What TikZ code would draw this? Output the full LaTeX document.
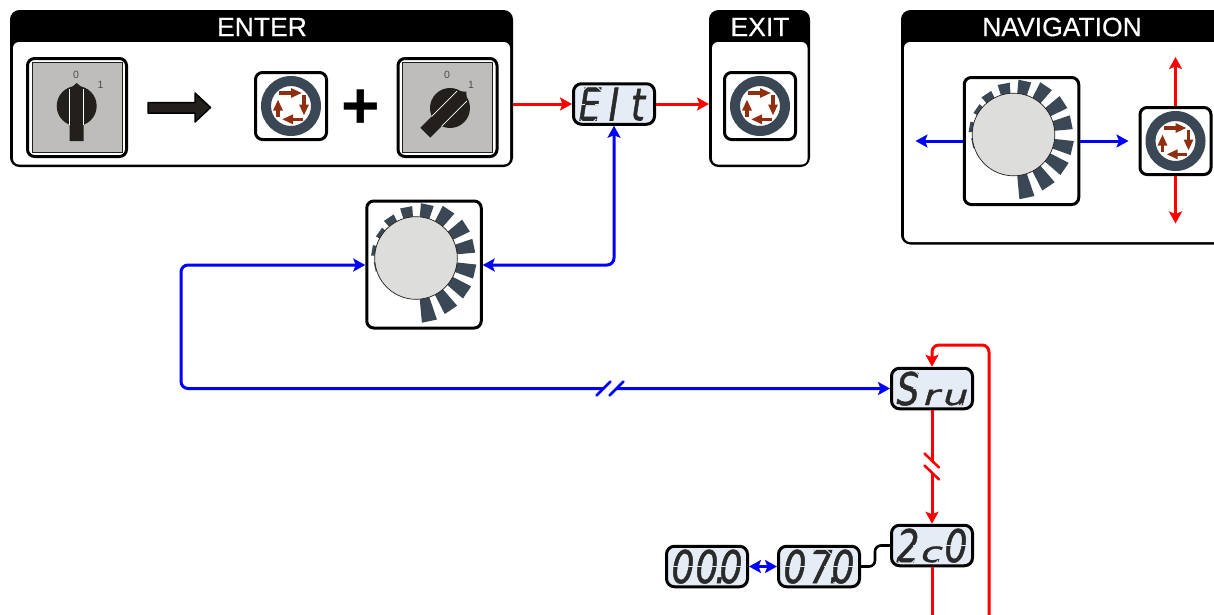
\documentclass[tikz,border=0pt]{standalone}
\usepackage{fontspec}
\setmainfont{Liberation Sans}
\newfontfamily\lcdfont{DejaVu Sans}[ItalicFont={DejaVu Sans Oblique},ItalicFeatures={FakeBold=1.2}]
\newfontfamily\titlefont{Liberation Sans}[FakeBold=.4]
\usetikzlibrary{arrows.meta}
\definecolor{ringc}{HTML}{3A4754}
\definecolor{brownc}{HTML}{8F2F10}
\definecolor{grayc}{HTML}{BEBDBB}
\definecolor{knobc}{HTML}{DDDDDB}
\definecolor{lcdc}{HTML}{E6ECF6}
\definecolor{darkc}{HTML}{231F1A}
\definecolor{lcdink}{HTML}{2A2A2A}
\tikzset{
  px/.style={x=1pt,y=-1pt},
  panel/.style={draw=black,line width=3pt,fill=black,rounded corners=8pt,inner sep=0pt,anchor=north west},
  paneltitle/.style={text=white,font=\fontsize{26.5}{26.5}\titlefont,inner sep=0pt},
  scaletext/.style={inner sep=0pt,text=darkc!80,font=\fontsize{10.5}{10.5}\selectfont},
  iconbox/.style={draw=black,line width=3pt,fill=white,rounded corners=7pt,inner sep=0pt},
  lcdbox/.style={draw=black,line width=3pt,fill=lcdc,rounded corners=8pt,inner sep=0pt,minimum width=81pt,minimum height=40.5pt,text=lcdink},
  redline/.style={draw=red,line width=3pt,rounded corners=7pt},
  blueline/.style={draw=blue,line width=3pt,rounded corners=7pt},
  rtip/.style={-{Stealth[length=12pt,width=13pt,inset=2.5pt]}},
  btip/.style={{Stealth[length=12pt,width=13pt,inset=2.5pt]}-{Stealth[length=12pt,width=13pt,inset=2.5pt]}},
  brownarrow/.style={draw=brownc,line width=3.4pt,-{Triangle[length=11pt,width=9pt]}},
  slash/.style={line width=2.6pt,line cap=round},
  slit/.style={draw=lcdc,line width=.9pt},
}
\newcommand{\lcdcell}[1]{\makebox[30pt][c]{#1}}
\newcommand{\lcdlow}[1]{\scalebox{1.1}[.62]{#1}}
\newcommand{\lcddot}{\rlap{\kern-4.5pt.}}
\newcommand{\lcdword}[3]{\raisebox{-16.5pt}[0pt][0pt]{\scalebox{.8}[1]{\fontsize{45}{45}\lcdfont\itshape\lcdcell{#1}\lcdcell{#2}\lcdcell{#3}}}}
% thin gaps that break the printed glyphs into display segments
\newcommand{\lcdslits}[2]{%
  \foreach \c in {-24,0,24}{
    \begin{scope}[shift={(#1+\c,#2)}]
      \draw[slit] (-14,0) -- (-5,0) (5,0) -- (14,0);
      \draw[slit] (-9,-11.5) -- (-2,-18) (6,-18) -- (13,-11.5);
      \draw[slit] (-9.5,15.5) -- (-7,18) (3,18) -- (6,15);
    \end{scope}}}
\newcommand{\ringicon}[3]{%
  \node[iconbox,minimum width=71pt,minimum height=67pt] (#1) at (#2,#3) {};
  \begin{scope}[shift={(#2,#3)}]
    \fill[ringc,even odd rule] (0,0) circle (30pt) (0,0) circle (20pt);
    \draw[brownarrow] (-11.7,-13) -- (11,-13);
    \draw[brownarrow] (13,-10.7) -- (13,9.5);
    \draw[brownarrow] (11.7,13.3) -- (-9,13.3);
    \draw[brownarrow] (-13,11) -- (-13,-6.5);
  \end{scope}}
\newcommand{\dialicon}[3]{%
  \node[iconbox,minimum width=114.5pt,minimum height=127pt] (#1) at (#2,#3) {};
  \begin{scope}[shift={(#2,#3)},shift={(-8,-6.5)},yscale=-1]
    \foreach \a/\r in {-78/65,-56/63,-34/62,-13/60.7,12/59.5,33/60,56/58.7,78/55,101/52,124/49,145/45.5,170/45,192/42.5}{
      \fill[ringc] (\a-6.8:38) -- (\a-6.8:\r) -- (\a+6.8:\r) -- (\a+6.8:38) -- cycle;
    }
    \filldraw[fill=knobc,draw=darkc,line width=.7pt] (0,0) circle (41.3pt);
  \end{scope}}
\newcommand{\switchicon}[6]{%
  \node[iconbox,minimum width=99pt,minimum height=98pt] (#1) at (#2,#3) {};
  \filldraw[fill=grayc,draw=darkc,line width=.7pt] (#2-45,#3-45) rectangle (#2+45,#3+45);
  \begin{scope}[shift={(#4,#5)},yscale=-1,rotate=#6]
    \fill[darkc] (0,0) circle (20pt);
    \fill[darkc] (-7,-35) -- (7,-35) -- (7,17) -- (0,23) -- (-7,17) -- cycle;
    \draw[white,line width=.7pt] (-7,-19) -- (-7,17) (7,-19) -- (7,17);
  \end{scope}}
\begin{document}
\begin{tikzpicture}[px]
\useasboundingbox (0,0) rectangle (1214,614);
\clip (0,0) rectangle (1214,614);
\fill[white] (0,0) rectangle (1214,614);

% panels
\node[panel,minimum width=500pt,minimum height=154pt] (enter) at (10,10) {};
\fill[white,rounded corners=6pt] (13,42) rectangle (510,164.5);
\node[paneltitle] at (262,27) {ENTER};
\node[panel,minimum width=98pt,minimum height=154pt] (exit) at (709,10) {};
\fill[white,rounded corners=6pt] (712,42) rectangle (807.5,164.5);
\node[paneltitle] at (760,27) {EXIT};
\node[panel,minimum width=320pt,minimum height=231.5pt] (nav) at (901,10) {};
\fill[white,rounded corners=6pt] (904,42) rectangle (1221,242);
\node[paneltitle] at (1062,27) {NAVIGATION};

% switches
\switchicon{swa}{77}{107.5}{76.7}{106}{0}
\node[scaletext] at (76,75) {0};
\node[scaletext] at (100.5,85) {1};
\switchicon{swb}{447.5}{107.5}{450}{108}{45}
\node[scaletext] at (447,75) {0};
\node[scaletext] at (471,85) {1};

% block arrow
\filldraw[fill=darkc,draw=black,line width=1.5pt,line join=round] (148,102.5) -- (195,102.5) -- (195,93) -- (210.5,107.5) -- (195,122) -- (195,113) -- (148,113) -- cycle;
% plus
\node[inner sep=0pt,font=\fontsize{66}{66}\selectfont\bfseries] at (360.5,109) {+};

% ring buttons
\ringicon{bta}{291}{106}
\ringicon{btb}{760}{106}
\ringicon{btc}{1175.5}{141}

% dials
\dialicon{dialm}{424}{264.5}
\dialicon{dialn}{1021.5}{141}

% displays
\node[lcdbox] (elt) at (614,104) {\lcdword{E}{I}{t}};
\lcdslits{614}{104}
\node[lcdbox] (srv) at (932,388.5) {\lcdword{S}{\lcdlow{r}}{\lcdlow{u}}};
\lcdslits{932}{388.5}
\node[lcdbox] (zco) at (932,545.5) {\lcdword{2}{\lcdlow{c}}{0}};
\lcdslits{932}{545.5}
\node[lcdbox] (ost) at (819,566.5) {\lcdword{0}{\hspace{5pt}7\lcddot}{0}};
\lcdslits{819}{566.5}
\node[lcdbox] (ooo) at (707,566.5) {\lcdword{0}{0\lcddot}{0}};
\lcdslits{707}{566.5}

% free ends
\coordinate (navl) at (915.5,141);
\coordinate (navr) at (1128.5,141);
\coordinate (navu) at (1175.5,57);
\coordinate (navd) at (1175.5,223.5);
\coordinate (downa) at (932,620);
\coordinate (downb) at (989,620);

% connectors
\draw[redline,rtip] (enter.east |- elt) -- (elt);
\draw[redline,rtip] (elt) -- (exit.west |- elt);
\draw[blueline,btip] (dialm.east |- 0,265) -- (elt.south |- 0,265) -- (elt.south);
\draw[blueline,btip] (dialm.west |- 0,265) -- (181,265) -- (181,388.5) -- (srv.west);
\draw[redline,rtip] (srv) -- (zco);
\draw[redline] (zco) -- (downa);
\draw[redline,rtip] (downb) -- (989,345) -- (932,345) -- (srv.north);
\draw[black,line width=2.6pt,rounded corners=6pt] (ost.east) -- (875,566.5) -- (875,545.5) -- (zco.west);
\draw[blueline,btip] (ooo.east) -- (ost.west);
\draw[draw=blue,line width=3pt,rtip] (dialn.west |- navl) -- (navl);
\draw[draw=blue,line width=3pt,rtip] (dialn.east |- navr) -- (navr);
\draw[redline,rtip] (btc.north) -- (navu);
\draw[redline,rtip] (btc.south) -- (navd);

% break marks
\fill[white] (610.7,381) -- (624,381) -- (609,396) -- (596,396) -- cycle;
\draw[slash,blue] (596.5,395.5) -- (610.5,381.5);
\draw[slash,blue] (609.5,395.5) -- (623.5,381.5);
\fill[white] (924,453) -- (939.3,467.7) -- (939.3,480) -- (924,465) -- cycle;
\draw[slash,red] (924.5,453.5) -- (939,467.5);
\draw[slash,red] (924.5,465.5) -- (939,479.5);
\end{tikzpicture}
\end{document}
